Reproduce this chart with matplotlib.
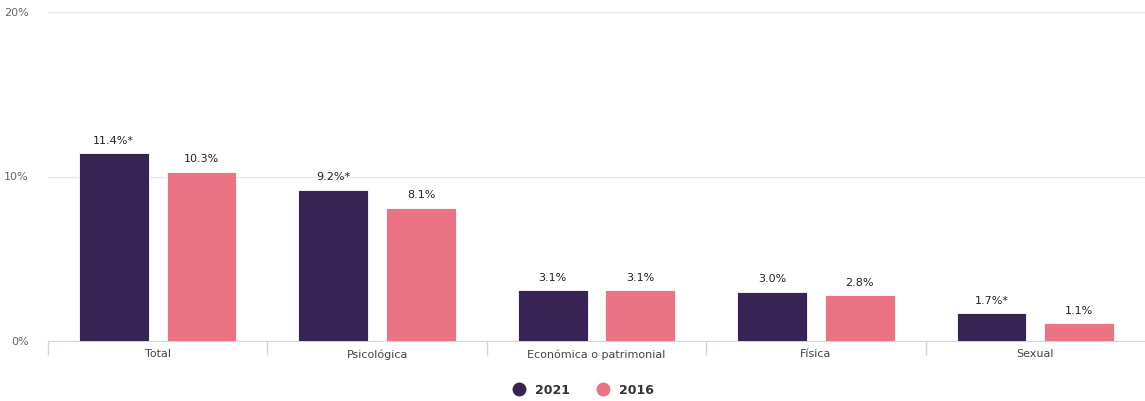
import numpy as np
import matplotlib.pyplot as plt
from matplotlib.lines import Line2D

categories = ["Total", "Psicológica", "Económica o patrimonial", "Física", "Sexual"]
values_2021 = [11.4, 9.2, 3.1, 3.0, 1.7]
values_2016 = [10.3, 8.1, 3.1, 2.8, 1.1]
labels_2021 = ["11.4%*", "9.2%*", "3.1%", "3.0%", "1.7%*"]
labels_2016 = ["10.3%", "8.1%", "3.1%", "2.8%", "1.1%"]
series_names = ["2021", "2016"]

C_2021 = "#372354"
C_2016 = "#ec7383"


def main():
    plt.rcParams.update({"font.family": "DejaVu Sans"})
    fig = plt.figure(figsize=(11.45, 4.01), dpi=100)
    ax = fig.add_axes([48 / 1145, 60 / 401, 1097 / 1145, 329 / 401])

    x = np.arange(len(categories))
    w = 0.318
    off = 0.2
    ax.bar(x - off, values_2021, w, color=C_2021, edgecolor="white", linewidth=0.6, zorder=3)
    ax.bar(x + off, values_2016, w, color=C_2016, edgecolor="white", linewidth=0.6, zorder=3)

    for xi, v, t in zip(x, values_2021, labels_2021):
        ax.text(xi - off, v + 0.45, t, ha="center", va="bottom", fontsize=8, color="#222222")
    for xi, v, t in zip(x, values_2016, labels_2016):
        ax.text(xi + off, v + 0.45, t, ha="center", va="bottom", fontsize=8, color="#222222")

    ax.set_xlim(-0.5, len(categories) - 0.5)
    ax.set_ylim(0, 20)
    ax.set_yticks([0, 10, 20])
    ax.set_yticklabels(["0%", "10%", "20%"])
    ax.yaxis.grid(True, color="#e6e6e6", linewidth=1, zorder=0)
    ax.tick_params(axis="y", length=0, labelsize=8, labelcolor="#666666", pad=14)

    ax.set_xticks(x)
    ax.set_xticklabels(categories)
    ax.tick_params(axis="x", length=0, labelsize=8, labelcolor="#444444", pad=6)
    ax.set_xticks(np.arange(len(categories)) - 0.5, minor=True)
    ax.tick_params(axis="x", which="minor", length=10, color="#ccd6eb", width=1)

    for s in ["top", "right", "left"]:
        ax.spines[s].set_visible(False)
    ax.spines["bottom"].set_color("#ccd6eb")

    handles = [
        Line2D([], [], marker="o", linestyle="none", markersize=9, color=C_2021),
        Line2D([], [], marker="o", linestyle="none", markersize=9, color=C_2016),
    ]
    leg = fig.legend(handles, series_names, loc="center", bbox_to_anchor=(580 / 1145, 11 / 401),
                     ncol=2, frameon=False, handletextpad=0.3, columnspacing=1.6,
                     prop={"weight": "bold", "size": 9})
    for t in leg.get_texts():
        t.set_color("#333333")

    fig.savefig("out.png", dpi=100)


if __name__ == "__main__":
    main()
